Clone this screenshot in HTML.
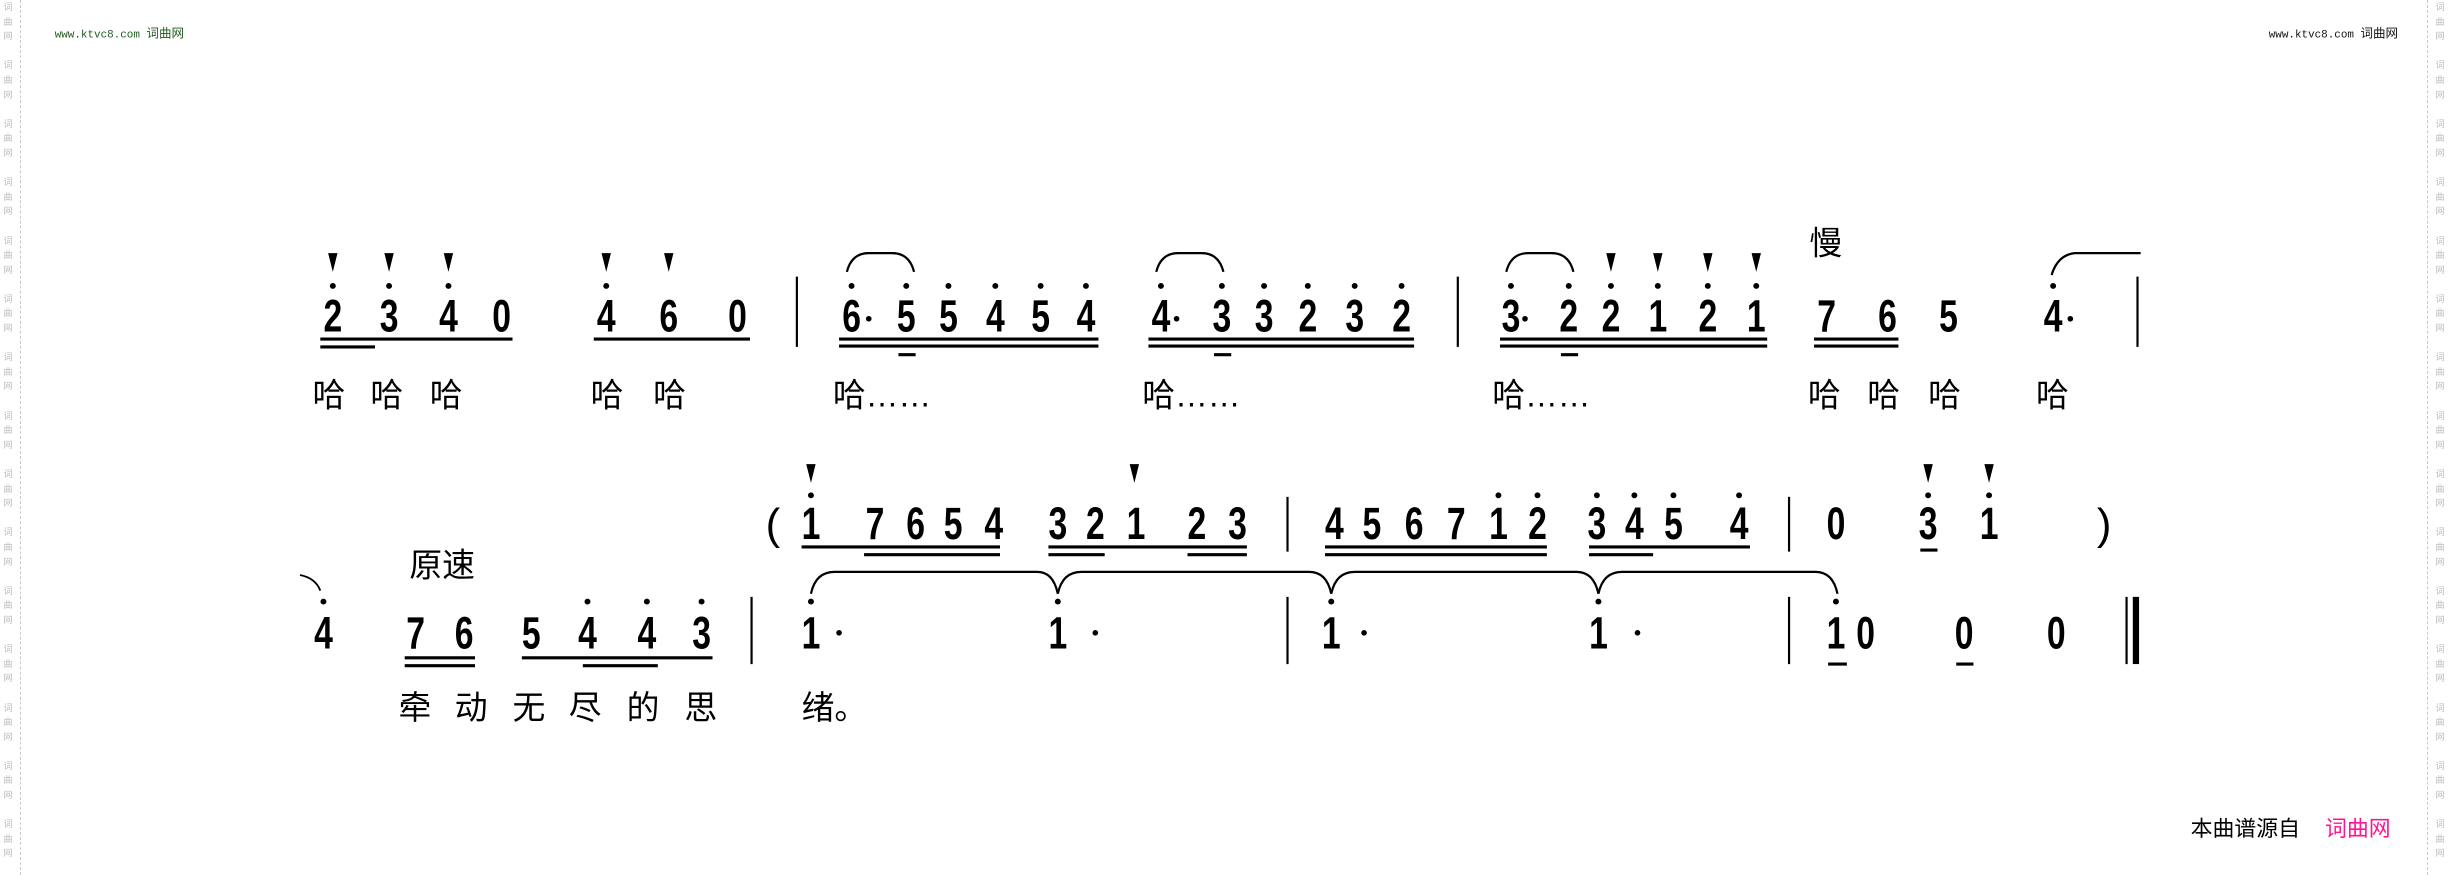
<!DOCTYPE html>
<html><head><meta charset="utf-8"><style>
html,body{margin:0;padding:0;background:#fff;width:2450px;height:875px;overflow:hidden;position:relative}
.side{position:absolute;top:0;width:12px;font:9px/14.6px "Liberation Sans","Noto Sans CJK SC",sans-serif;color:#bbb;text-align:center}
.side span{display:block;height:14.6px}
.dash{position:absolute;top:0;height:875px;border-left:1.5px dashed #c8c8c8}
svg{position:absolute;left:0;top:0}
.d{font-family:"Liberation Sans",sans-serif;font-weight:bold;font-size:29px;fill:#000}
.c{font-family:"Liberation Sans","Noto Sans CJK SC",sans-serif;font-size:21px;fill:#000}
</style></head><body>
<div class="side" style="left:2px">
<span>词</span><span>曲</span><span>网</span><span></span>
<span>词</span><span>曲</span><span>网</span><span></span>
<span>词</span><span>曲</span><span>网</span><span></span>
<span>词</span><span>曲</span><span>网</span><span></span>
<span>词</span><span>曲</span><span>网</span><span></span>
<span>词</span><span>曲</span><span>网</span><span></span>
<span>词</span><span>曲</span><span>网</span><span></span>
<span>词</span><span>曲</span><span>网</span><span></span>
<span>词</span><span>曲</span><span>网</span><span></span>
<span>词</span><span>曲</span><span>网</span><span></span>
<span>词</span><span>曲</span><span>网</span><span></span>
<span>词</span><span>曲</span><span>网</span><span></span>
<span>词</span><span>曲</span><span>网</span><span></span>
<span>词</span><span>曲</span><span>网</span><span></span>
<span>词</span><span>曲</span><span>网</span><span></span>
</div>
<div class="dash" style="left:20px"></div>
<div class="side" style="left:2434px">
<span>词</span><span>曲</span><span>网</span><span></span>
<span>词</span><span>曲</span><span>网</span><span></span>
<span>词</span><span>曲</span><span>网</span><span></span>
<span>词</span><span>曲</span><span>网</span><span></span>
<span>词</span><span>曲</span><span>网</span><span></span>
<span>词</span><span>曲</span><span>网</span><span></span>
<span>词</span><span>曲</span><span>网</span><span></span>
<span>词</span><span>曲</span><span>网</span><span></span>
<span>词</span><span>曲</span><span>网</span><span></span>
<span>词</span><span>曲</span><span>网</span><span></span>
<span>词</span><span>曲</span><span>网</span><span></span>
<span>词</span><span>曲</span><span>网</span><span></span>
<span>词</span><span>曲</span><span>网</span><span></span>
<span>词</span><span>曲</span><span>网</span><span></span>
<span>词</span><span>曲</span><span>网</span><span></span>
</div>
<div class="dash" style="left:2427px"></div>
<svg width="2450" height="875" viewBox="0 0 1568 560">
<g font-family="'Liberation Mono','Noto Sans CJK SC',monospace" font-size="7">
<text x="35" y="24" fill="#1f5a1f">www.ktvc8.com <tspan font-size="8" font-family="'Noto Sans CJK SC',sans-serif">词曲网</tspan></text>
<text x="1452" y="24" fill="#111">www.ktvc8.com <tspan font-size="8" font-family="'Noto Sans CJK SC',sans-serif">词曲网</tspan></text>
</g>
<text x="1402" y="535" font-family="'Liberation Sans','Noto Sans CJK SC',sans-serif" font-size="14">本曲谱源自</text>
<text x="1488" y="535" font-family="'Liberation Sans','Noto Sans CJK SC',sans-serif" font-size="14" fill="#ff1493">词曲网</text>

<!-- ROW 1 -->
<g class="d">
<text x="207" y="212" textLength="12" lengthAdjust="spacingAndGlyphs">2</text>
<text x="243" y="212" textLength="12" lengthAdjust="spacingAndGlyphs">3</text>
<text x="281" y="212" textLength="12" lengthAdjust="spacingAndGlyphs">4</text>
<text x="315" y="212" textLength="12" lengthAdjust="spacingAndGlyphs">0</text>
<text x="382" y="212" textLength="12" lengthAdjust="spacingAndGlyphs">4</text>
<text x="422" y="212" textLength="12" lengthAdjust="spacingAndGlyphs">6</text>
<text x="466" y="212" textLength="12" lengthAdjust="spacingAndGlyphs">0</text>
<text x="539" y="212" textLength="12" lengthAdjust="spacingAndGlyphs">6</text>
<text x="574" y="212" textLength="12" lengthAdjust="spacingAndGlyphs">5</text>
<text x="601" y="212" textLength="12" lengthAdjust="spacingAndGlyphs">5</text>
<text x="631" y="212" textLength="12" lengthAdjust="spacingAndGlyphs">4</text>
<text x="660" y="212" textLength="12" lengthAdjust="spacingAndGlyphs">5</text>
<text x="689" y="212" textLength="12" lengthAdjust="spacingAndGlyphs">4</text>
<text x="737" y="212" textLength="12" lengthAdjust="spacingAndGlyphs">4</text>
<text x="776" y="212" textLength="12" lengthAdjust="spacingAndGlyphs">3</text>
<text x="803" y="212" textLength="12" lengthAdjust="spacingAndGlyphs">3</text>
<text x="831" y="212" textLength="12" lengthAdjust="spacingAndGlyphs">2</text>
<text x="861" y="212" textLength="12" lengthAdjust="spacingAndGlyphs">3</text>
<text x="891" y="212" textLength="12" lengthAdjust="spacingAndGlyphs">2</text>
<text x="961" y="212" textLength="12" lengthAdjust="spacingAndGlyphs">3</text>
<text x="998" y="212" textLength="12" lengthAdjust="spacingAndGlyphs">2</text>
<text x="1025" y="212" textLength="12" lengthAdjust="spacingAndGlyphs">2</text>
<text x="1055" y="212" textLength="12" lengthAdjust="spacingAndGlyphs">1</text>
<text x="1087" y="212" textLength="12" lengthAdjust="spacingAndGlyphs">2</text>
<text x="1118" y="212" textLength="12" lengthAdjust="spacingAndGlyphs">1</text>
<text x="1163" y="212" textLength="12" lengthAdjust="spacingAndGlyphs">7</text>
<text x="1202" y="212" textLength="12" lengthAdjust="spacingAndGlyphs">6</text>
<text x="1241" y="212" textLength="12" lengthAdjust="spacingAndGlyphs">5</text>
<text x="1308" y="212" textLength="12" lengthAdjust="spacingAndGlyphs">4</text>
</g>
<g fill="#000">
<circle cx="213" cy="183" r="1.9"/><circle cx="249" cy="183" r="1.9"/><circle cx="287" cy="183" r="1.9"/>
<circle cx="388" cy="183" r="1.9"/>
<circle cx="545" cy="183" r="1.9"/><circle cx="580" cy="183" r="1.9"/><circle cx="607" cy="183" r="1.9"/><circle cx="637" cy="183" r="1.9"/><circle cx="666" cy="183" r="1.9"/><circle cx="695" cy="183" r="1.9"/>
<circle cx="743" cy="183" r="1.9"/><circle cx="782" cy="183" r="1.9"/><circle cx="809" cy="183" r="1.9"/><circle cx="837" cy="183" r="1.9"/><circle cx="867" cy="183" r="1.9"/><circle cx="897" cy="183" r="1.9"/>
<circle cx="967" cy="183" r="1.9"/><circle cx="1004" cy="183" r="1.9"/><circle cx="1031" cy="183" r="1.9"/><circle cx="1061" cy="183" r="1.9"/><circle cx="1093" cy="183" r="1.9"/><circle cx="1124" cy="183" r="1.9"/>
<circle cx="1314" cy="183" r="1.9"/>
<circle cx="556" cy="204" r="1.8"/><circle cx="753" cy="204" r="1.8"/><circle cx="976" cy="204" r="1.8"/><circle cx="1325" cy="204" r="1.8"/>
<polygon points="210,162 216,162 213,174"/><polygon points="246,162 252,162 249,174"/><polygon points="284,162 290,162 287,174"/>
<polygon points="385,162 391,162 388,174"/><polygon points="425,162 431,162 428,174"/>
<polygon points="1028,162 1034,162 1031,174"/><polygon points="1058,162 1064,162 1061,174"/><polygon points="1090,162 1096,162 1093,174"/><polygon points="1121,162 1127,162 1124,174"/>
</g>
<g stroke="#000" stroke-width="2" fill="none">
<path d="M205 217H328M205 222H240M380 217H480"/>
<path d="M537 217H703M537 221.5H703M575 227H586"/>
<path d="M735 217H905M735 221.5H905M777 227H788"/>
<path d="M960 217H1131M960 221.5H1131M999 227H1010"/>
<path d="M1161 217H1215M1161 221.5H1215"/>
</g>
<g stroke="#000" stroke-width="1.4" fill="none">
<path d="M510 177V222M933 177V222M1368 177V222"/>
<path d="M542 174Q545 162 556 162H571Q582 162 585 174"/>
<path d="M740 174Q743 162 754 162H769Q780 162 783 174"/>
<path d="M964 174Q967 162 978 162H993Q1004 162 1007 174"/>
<path d="M1313 176Q1317 163 1328 162H1370"/>
</g>
<text x="1158" y="163" class="c" font-size="21">慢</text>
<g class="c">
<text x="200" y="260">哈</text><text x="237" y="260">哈</text><text x="275" y="260">哈</text>
<text x="378" y="260">哈</text><text x="418" y="260">哈</text>
<text x="533" y="260">哈……</text><text x="731" y="260">哈……</text><text x="955" y="260">哈……</text>
<text x="1157" y="260">哈</text><text x="1195" y="260">哈</text><text x="1234" y="260">哈</text><text x="1303" y="260">哈</text>
</g>

<!-- ROW 2 -->
<text x="490" y="345" font-family="'Liberation Sans',sans-serif" font-size="28">(</text>
<text x="1342" y="345" font-family="'Liberation Sans',sans-serif" font-size="28">)</text>
<g class="d">
<text x="513" y="345" textLength="12" lengthAdjust="spacingAndGlyphs">1</text>
<text x="554" y="345" textLength="12" lengthAdjust="spacingAndGlyphs">7</text>
<text x="580" y="345" textLength="12" lengthAdjust="spacingAndGlyphs">6</text>
<text x="604" y="345" textLength="12" lengthAdjust="spacingAndGlyphs">5</text>
<text x="630" y="345" textLength="12" lengthAdjust="spacingAndGlyphs">4</text>
<text x="671" y="345" textLength="12" lengthAdjust="spacingAndGlyphs">3</text>
<text x="695" y="345" textLength="12" lengthAdjust="spacingAndGlyphs">2</text>
<text x="721" y="345" textLength="12" lengthAdjust="spacingAndGlyphs">1</text>
<text x="760" y="345" textLength="12" lengthAdjust="spacingAndGlyphs">2</text>
<text x="786" y="345" textLength="12" lengthAdjust="spacingAndGlyphs">3</text>
<text x="848" y="345" textLength="12" lengthAdjust="spacingAndGlyphs">4</text>
<text x="872" y="345" textLength="12" lengthAdjust="spacingAndGlyphs">5</text>
<text x="899" y="345" textLength="12" lengthAdjust="spacingAndGlyphs">6</text>
<text x="926" y="345" textLength="12" lengthAdjust="spacingAndGlyphs">7</text>
<text x="953" y="345" textLength="12" lengthAdjust="spacingAndGlyphs">1</text>
<text x="978" y="345" textLength="12" lengthAdjust="spacingAndGlyphs">2</text>
<text x="1016" y="345" textLength="12" lengthAdjust="spacingAndGlyphs">3</text>
<text x="1040" y="345" textLength="12" lengthAdjust="spacingAndGlyphs">4</text>
<text x="1065" y="345" textLength="12" lengthAdjust="spacingAndGlyphs">5</text>
<text x="1107" y="345" textLength="12" lengthAdjust="spacingAndGlyphs">4</text>
<text x="1169" y="345" textLength="12" lengthAdjust="spacingAndGlyphs">0</text>
<text x="1228" y="345" textLength="12" lengthAdjust="spacingAndGlyphs">3</text>
<text x="1267" y="345" textLength="12" lengthAdjust="spacingAndGlyphs">1</text>
</g>
<g fill="#000">
<circle cx="519" cy="317" r="1.9"/><circle cx="959" cy="317" r="1.9"/><circle cx="984" cy="317" r="1.9"/><circle cx="1022" cy="317" r="1.9"/><circle cx="1046" cy="317" r="1.9"/><circle cx="1071" cy="317" r="1.9"/><circle cx="1113" cy="317" r="1.9"/><circle cx="1234" cy="317" r="1.9"/><circle cx="1273" cy="317" r="1.9"/>
<polygon points="516,297 522,297 519,309"/><polygon points="723,297 729,297 726,309"/><polygon points="1231,297 1237,297 1234,309"/><polygon points="1270,297 1276,297 1273,309"/>
</g>
<g stroke="#000" stroke-width="2" fill="none">
<path d="M513 350H640M553 355H640"/>
<path d="M671 350H798M671 355H707M760 355H798"/>
<path d="M848 350H990M848 355H990"/>
<path d="M1017 350H1120M1017 355H1058"/>
<path d="M1229 352H1240"/>
</g>
<path d="M824 318V353M1145 318V353" stroke="#000" stroke-width="1.4"/>

<!-- ROW 3 -->
<text x="262" y="369" class="c">原速</text>
<path d="M192 368Q202 370 205 378" stroke="#000" stroke-width="1.2" fill="none"/>
<g class="d">
<text x="201" y="415" textLength="12" lengthAdjust="spacingAndGlyphs">4</text>
<text x="260" y="415" textLength="12" lengthAdjust="spacingAndGlyphs">7</text>
<text x="291" y="415" textLength="12" lengthAdjust="spacingAndGlyphs">6</text>
<text x="334" y="415" textLength="12" lengthAdjust="spacingAndGlyphs">5</text>
<text x="370" y="415" textLength="12" lengthAdjust="spacingAndGlyphs">4</text>
<text x="408" y="415" textLength="12" lengthAdjust="spacingAndGlyphs">4</text>
<text x="443" y="415" textLength="12" lengthAdjust="spacingAndGlyphs">3</text>
<text x="513" y="415" textLength="12" lengthAdjust="spacingAndGlyphs">1</text>
<text x="671" y="415" textLength="12" lengthAdjust="spacingAndGlyphs">1</text>
<text x="846" y="415" textLength="12" lengthAdjust="spacingAndGlyphs">1</text>
<text x="1017" y="415" textLength="12" lengthAdjust="spacingAndGlyphs">1</text>
<text x="1169" y="415" textLength="12" lengthAdjust="spacingAndGlyphs">1</text>
<text x="1188" y="415" textLength="12" lengthAdjust="spacingAndGlyphs">0</text>
<text x="1251" y="415" textLength="12" lengthAdjust="spacingAndGlyphs">0</text>
<text x="1310" y="415" textLength="12" lengthAdjust="spacingAndGlyphs">0</text>
</g>
<g fill="#000">
<circle cx="207" cy="385" r="1.9"/><circle cx="376" cy="385" r="1.9"/><circle cx="414" cy="385" r="1.9"/><circle cx="449" cy="385" r="1.9"/><circle cx="519" cy="385" r="1.9"/><circle cx="677" cy="385" r="1.9"/><circle cx="852" cy="385" r="1.9"/><circle cx="1023" cy="385" r="1.9"/><circle cx="1175" cy="385" r="1.9"/>
<circle cx="537" cy="405" r="1.8"/><circle cx="701" cy="405" r="1.8"/><circle cx="873" cy="405" r="1.8"/><circle cx="1048" cy="405" r="1.8"/>
<rect x="1365" y="382" width="4" height="43"/>
</g>
<g stroke="#000" stroke-width="2" fill="none">
<path d="M259 421H304M259 426H304M334 421H456M373 426H421"/>
<path d="M1170 425H1182M1252 425H1263"/>
</g>
<g stroke="#000" stroke-width="1.4" fill="none">
<path d="M481 382V425M824 382V425M1145 382V425M1361 382V425"/>
<path d="M519 380Q522 366 534 366H664Q674 366 677 380"/>
<path d="M677 380Q680 366 692 366H838Q849 366 852 380"/>
<path d="M852 380Q855 366 867 366H1009Q1020 366 1023 380"/>
<path d="M1023 380Q1026 366 1038 366H1162Q1173 366 1176 380"/>
</g>
<g class="c">
<text x="255" y="460">牵</text><text x="291" y="460">动</text><text x="328" y="460">无</text><text x="364" y="460">尽</text><text x="401" y="460">的</text><text x="438" y="460">思</text>
<text x="513" y="460">绪。</text>
</g>
</svg>
</body></html>
